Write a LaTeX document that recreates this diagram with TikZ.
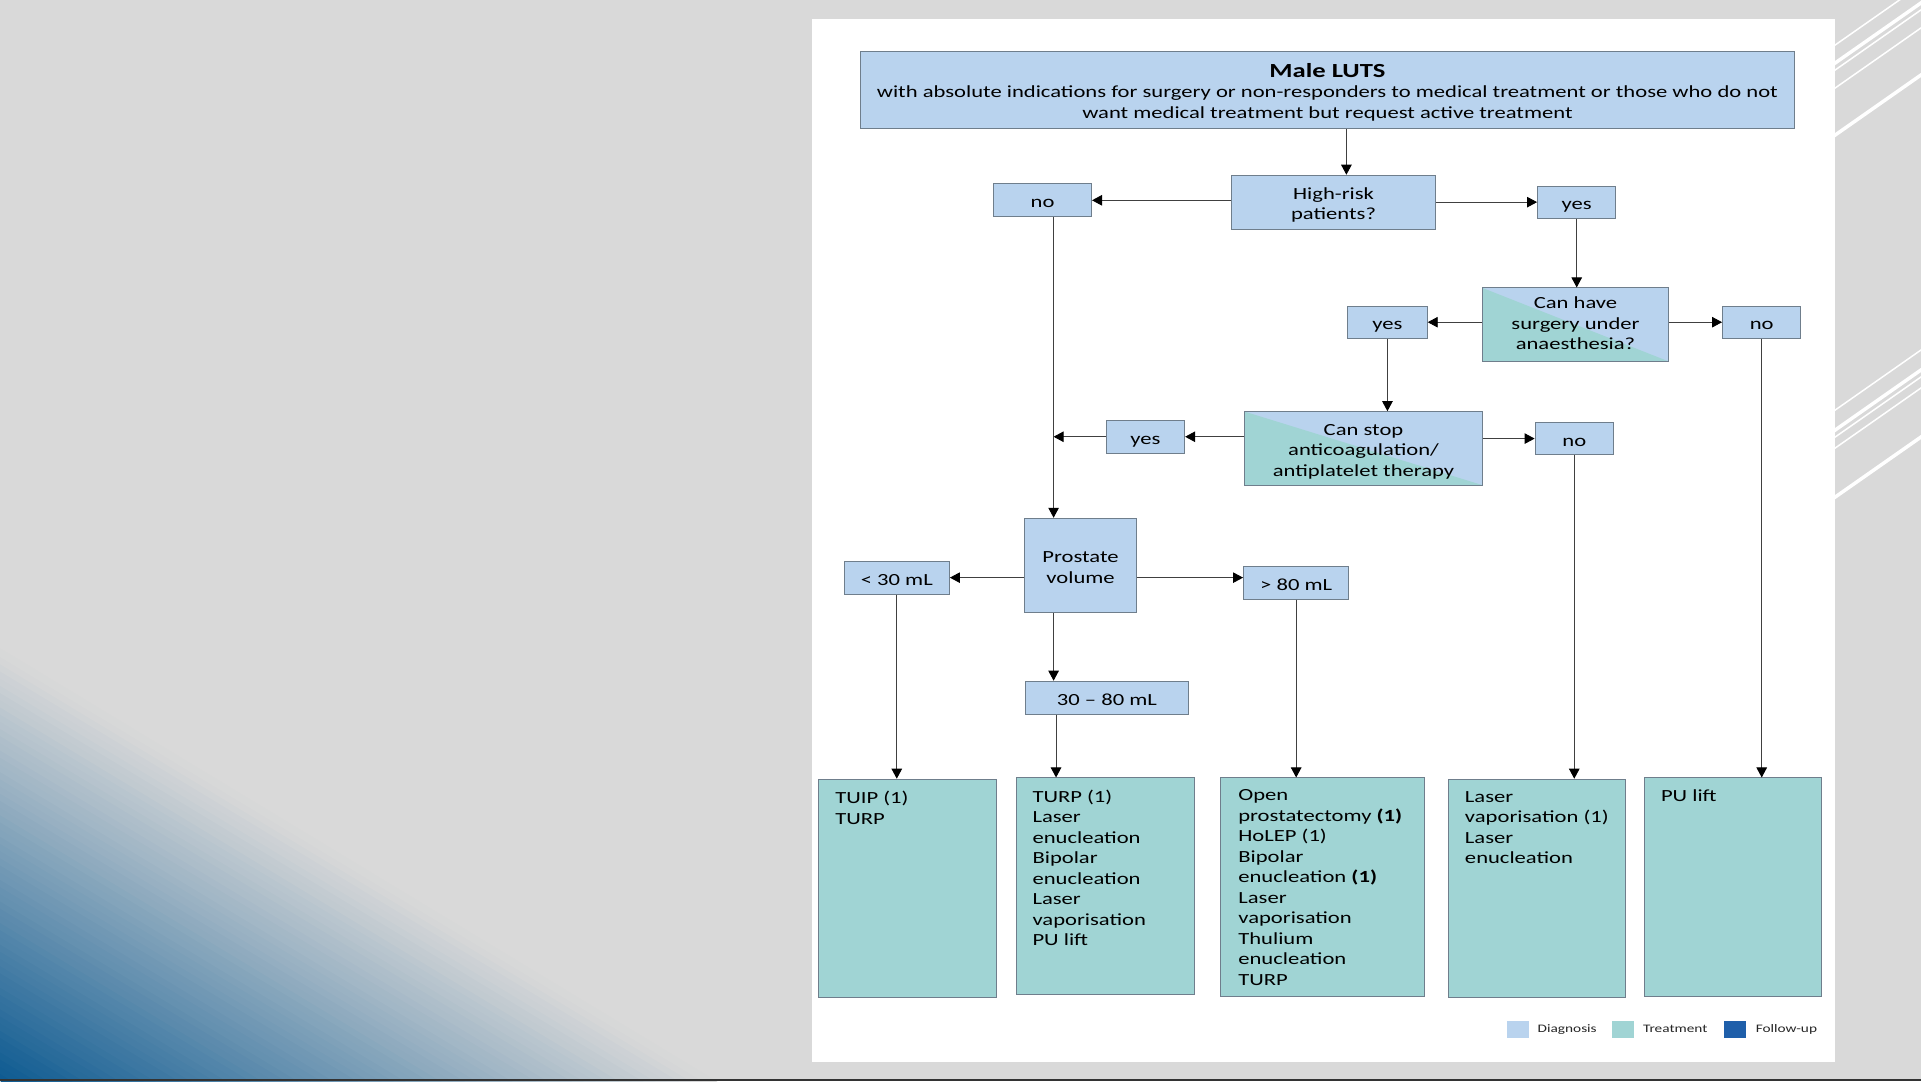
\documentclass[tikz,border=0pt]{standalone}
\usepackage{fontspec}
\setmainfont{Carlito}[FakeStretch=1.33]
\usetikzlibrary{arrows.meta,calc}
\definecolor{bgc}{HTML}{D9D9D9}
\definecolor{diag}{HTML}{B9D3EE}
\definecolor{treat}{HTML}{A0D4D4}
\definecolor{fup}{HTML}{1F5FAA}
\definecolor{bord}{HTML}{6F7E8C}
\definecolor{gblue}{HTML}{0D5A91}
\newdimen\du \du=1.2251pt
\newcommand\sst{\rule[-0.25em]{0pt}{1.39em}}
\newcommand\est{\rule[-0.25em]{0pt}{1.04em}}
\tikzset{
 dbox/.style={draw=bord, line width=0.9pt, fill=diag, inner sep=0pt, align=center, font=\fontsize{17}{20.5}\selectfont, text=black},
 tbox/.style={draw=bord, line width=0.9pt, fill=treat, inner sep=0pt},
 ttext/.style={anchor=north west, inner sep=0pt, align=left, font=\fontsize{17}{20.5}\selectfont, text=black},
 split/.style={dbox, path picture={\fill[treat] (path picture bounding box.north west) -- (path picture bounding box.south east) -- (path picture bounding box.south west) -- cycle;}},
 arr/.style={draw=black!75, line width=0.9pt, -{Triangle[length=10pt,width=10.5pt,color=black]}},
 legbox/.style={inner sep=0pt, minimum width=18\du, minimum height=14\du},
 legtext/.style={anchor=west, inner sep=0pt, font=\fontsize{11.5}{12}\selectfont, text=black!85},
}
\begin{document}
\begin{tikzpicture}[x=1.2251pt, y=-1.2251pt]
\useasboundingbox (0,0) rectangle (1568.03,882.38);
\fill[bgc] (0,0) rectangle (1568.03,882.38);
% gradient corner
\begin{scope}
\clip (0,0) rectangle (1568.03,882.38);
\foreach \i [evaluate=\i as \gpc using {int(round(100*(\i+0.5)/60))}] in {0,...,59} {
 \fill[bgc!\gpc!gblue] ({0.517*5.02*\i-600},{882.38-0.856*5.02*\i-362.5}) -- ({0.517*5.02*\i+600},{882.38-0.856*5.02*\i+362.5}) -- ({0.517*5.02*(\i+1.2)+600},{882.38-0.856*5.02*(\i+1.2)+362.5}) -- ({0.517*5.02*(\i+1.2)-600},{882.38-0.856*5.02*(\i+1.2)-362.5}) -- cycle;
}
\end{scope}
% stripes
\begin{scope}
\clip (0,0) rectangle (1568.03,882.38);
\foreach \yy/\w in {36.7/1.5, 51.4/3.5, 57.1/1.5, 71.8/1.5, 110.2/3.5, 334.7/1.5, 351.0/3.5, 356.7/1.5, 365.7/1.5, 405.7/3.5}
 \draw[white, line width=\w pt] (1470,\yy+19.6) -- (1580,\yy-57.4);
\end{scope}
% panel
\fill[white] (662.8,15.5) rectangle (1497.9,866.5);
\fill[black!80] (0,880.8) rectangle (1568.03,882.38);

% nodes
\node[dbox, minimum width=763\du, minimum height=63\du] (top) at (1083.5,73.5) {\sst{\fontsize{20}{20.5}\selectfont\bfseries Male LUTS}\\with absolute indications for surgery or non-responders to medical treatment or those who do not\\\est want medical treatment but request active treatment};
\node[dbox, minimum width=167\du, minimum height=44\du] (hr) at (1088.5,165) {\sst High-risk\\\est patients?};
\node[dbox, minimum width=80\du, minimum height=27\du] (no1) at (851,163.5) {\sst no};
\node[dbox, minimum width=64\du, minimum height=26\du] (yes1) at (1287,165) {\sst yes};
\node[split, minimum width=152\du, minimum height=60\du] (ch) at (1286,265) {\est Can have\\surgery under\\\est anaesthesia?};
\node[dbox, minimum width=65\du, minimum height=26\du] (yes2) at (1132.5,263) {\sst yes};
\node[dbox, minimum width=64\du, minimum height=26\du] (no2) at (1438,263) {\sst no};
\node[split, minimum width=194\du, minimum height=60\du] (cs) at (1113,366) {\sst Can stop\\anticoagulation/\\\est antiplatelet therapy};
\node[dbox, minimum width=64\du, minimum height=27\du] (yes3) at (935,356.5) {\sst yes};
\node[dbox, minimum width=64\du, minimum height=26\du] (no3) at (1285,358) {\sst no};
\node[dbox, minimum width=92\du, minimum height=77\du] (pv) at (882,461.5) {\sst Prostate\\\est volume};
\node[dbox, minimum width=86\du, minimum height=27\du] (lt) at (732,471.5) {\sst < 30 mL};
\node[dbox, minimum width=86\du, minimum height=27\du] (gt) at (1058,475.5) {\sst > 80 mL};
\node[dbox, minimum width=133\du, minimum height=27\du] (mid) at (903.5,569.5) {\sst 30 – 80 mL};

\node[tbox, minimum width=145\du, minimum height=178\du] (t1) at (740.5,725) {};
\node[tbox, minimum width=145\du, minimum height=177\du] (t2) at (902.5,723.5) {};
\node[tbox, minimum width=167\du, minimum height=178\du] (t3) at (1079.5,724) {};
\node[tbox, minimum width=145\du, minimum height=178\du] (t4) at (1254.5,725) {};
\node[tbox, minimum width=145\du, minimum height=178\du] (t5) at (1414.5,724) {};

\node[ttext] (x1) at ([shift={(14,10)}]t1.north west) {TUIP (1)\\TURP};
\node[ttext] (x2) at ([shift={(13,10)}]t2.north west) {TURP (1)\\Laser\\enucleation\\Bipolar\\enucleation\\Laser\\vaporisation\\PU lift};
\node[ttext] (x3) at ([shift={(15,10)}]t3.north west) {Open\\prostatectomy \textbf{(1)}\\HoLEP (1)\\Bipolar\\enucleation \textbf{(1)}\\Laser\\vaporisation\\Thulium\\enucleation\\TURP};
\node[ttext] (x4) at ([shift={(14,10)}]t4.north west) {Laser\\vaporisation (1)\\Laser\\enucleation};
\node[ttext] (x5) at ([shift={(14,10)}]t5.north west) {PU lift};

% legend
\node[legbox, fill=diag] (lg1) at (1239,840) {};
\node[legtext] (lt1) at (1255,840) {Diagnosis};
\node[legbox, fill=treat] (lg2) at (1325,840) {};
\node[legtext] (lt2) at (1341,840) {Treatment};
\node[legbox, fill=fup] (lg3) at (1416.5,840) {};
\node[legtext] (lt3) at (1433,840) {Follow-up};

% connectors
\coordinate (a1) at (1099,0);
\coordinate (vx) at (860,0);
\coordinate (vx2) at (862,0);
\draw[arr] (top.south -| a1) -- (hr.north -| a1);
\draw[arr] (hr.west |- no1.east) -- (no1.east);
\draw[arr] (hr.east) -- (yes1.west |- hr.east);
\draw[arr] (yes1.south) -- (yes1.south |- ch.north);
\draw[arr] (ch.west |- yes2.east) -- (yes2.east);
\draw[arr] (ch.east |- no2.west) -- (no2.west);
\draw[arr] (yes2.south) -- (yes2.south |- cs.north);
\draw[arr] (cs.west |- yes3.east) -- (yes3.east);
\draw[arr] (yes3.west) -- (yes3.west -| vx);
\draw[arr] (cs.east |- no3.west) -- (no3.west);
\draw[arr] (no1.south -| vx) -- (pv.north -| vx);
\draw[arr] (pv.west |- lt.east) -- (lt.east);
\draw[arr] (pv.east |- lt.east) -- (gt.west |- lt.east);
\draw[arr] (pv.south -| vx) -- (mid.north -| vx);
\draw[arr] (lt.south) -- (lt.south |- t1.north);
\draw[arr] (mid.south -| vx2) -- (t2.north -| vx2);
\draw[arr] (gt.south) -- (gt.south |- t3.north);
\draw[arr] (no3.south) -- (no3.south |- t4.north);
\draw[arr] (no2.south) -- (no2.south |- t5.north);
\end{tikzpicture}
\end{document}
